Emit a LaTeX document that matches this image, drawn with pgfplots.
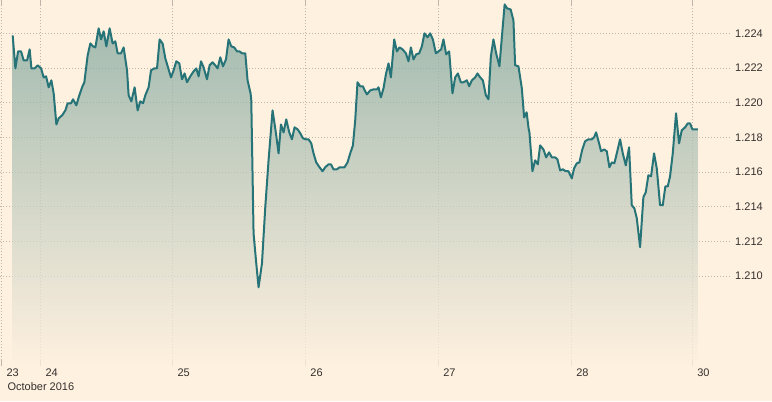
\documentclass[border=0pt]{standalone}
\usepackage{fontspec}
\setmainfont{Liberation Sans}
\usepackage{pgfplots}
\pgfplotsset{compat=1.18}
\usepackage{pgfplotstable}

\definecolor{ftbg}{HTML}{FFF1E0}
\definecolor{ftline}{HTML}{277478}
\definecolor{fttop}{RGB}{126,165,156}
\definecolor{ftgrid}{HTML}{BFB5AB}
\definecolor{fttext}{HTML}{33302E}

% x: position on the trading-time axis (day 24 at 40, 132 per day), y: EUR/USD rate
\pgfplotstableread{
x y
12.3 1.22388
15 1.22198
17.7 1.22296
20.7 1.22296
23.3 1.22244
26.7 1.22244
29.3 1.22308
31 1.22198
34.3 1.22198
37.3 1.22216
40.7 1.22198
43.3 1.22146
45.7 1.22152
48.3 1.22089
51 1.22129
53.3 1.22054
56 1.21875
58.3 1.21910
61.7 1.21927
65 1.21956
67.3 1.21997
70.7 1.21997
72.7 1.22020
76 1.21985
78.3 1.22031
81.7 1.22089
84 1.22118
87.3 1.22273
90 1.22342
92.7 1.22325
95 1.22319
98.3 1.22429
100.7 1.22365
103.3 1.22412
106 1.22325
109.3 1.22429
112.3 1.22342
115 1.22354
117.3 1.22285
120.7 1.22285
123.3 1.22319
126.7 1.22187
128.3 1.22043
131 1.22008
134.3 1.22089
137.3 1.21956
140 1.22008
142.7 1.21997
145 1.22043
148.3 1.22089
150.7 1.22187
154 1.22198
156.7 1.22198
159.3 1.22365
162.3 1.22342
165 1.22256
167.7 1.22204
170.7 1.22146
173.3 1.22187
176 1.22239
179 1.22227
181.7 1.22135
184.3 1.22169
186.7 1.22118
190 1.22152
193.3 1.22181
196 1.22198
198.3 1.22152
200.7 1.22239
203.3 1.22204
206.7 1.22135
209.3 1.22216
212.3 1.22233
215 1.22216
217.3 1.22198
220 1.22262
222.7 1.22210
225.7 1.22250
228.3 1.22365
231 1.22325
234 1.22319
236.7 1.22296
239.3 1.22296
241.7 1.22285
245 1.22285
247.3 1.22129
250.3 1.22054
251 1.22014
253.3 1.21247
255.7 1.21092
258.3 1.20936
261.7 1.21074
265 1.21397
268.3 1.21668
272.3 1.21956
275.7 1.21824
278.3 1.21708
280.7 1.21875
283.3 1.21829
286 1.21904
289 1.21829
291.7 1.21789
294.3 1.21858
297.3 1.21847
300 1.21824
302.7 1.21795
305.7 1.21789
308.3 1.21789
311 1.21766
313.3 1.21708
316 1.21656
319.3 1.21628
322.3 1.21605
325 1.21628
328.3 1.21645
330.7 1.21645
333.3 1.21616
336.7 1.21616
339.3 1.21628
344.3 1.21628
347.3 1.21656
350 1.21708
352.7 1.21754
355 1.21899
357.3 1.22118
360 1.22095
362.7 1.22095
364 1.22077
366.7 1.22048
370 1.22071
373.3 1.22077
376.7 1.22077
378.3 1.22089
380.7 1.22031
383.3 1.22083
385.7 1.22164
388.3 1.22227
390.7 1.22146
394 1.22365
396.7 1.22296
399.3 1.22319
402.3 1.22308
405.7 1.22285
408.3 1.22239
410.7 1.22319
413.3 1.22250
416 1.22279
419 1.22285
421.7 1.22325
424.3 1.22400
427.3 1.22377
430 1.22400
432.7 1.22365
435.7 1.22285
438.3 1.22296
441 1.22308
443.3 1.22365
446 1.22279
449 1.22296
452.3 1.22054
455 1.22146
457.7 1.22169
460.7 1.22118
463.3 1.22118
466.7 1.22129
469 1.22095
471.7 1.22129
475 1.22146
477.3 1.22169
480 1.22146
482.7 1.22129
485.7 1.22043
488.3 1.22020
490.7 1.22267
493.3 1.22365
496 1.22285
499.3 1.22210
501.7 1.22377
504.5 1.22567
507 1.22544
510.5 1.22538
513.3 1.22475
515 1.22216
518.3 1.22210
521.7 1.22083
524 1.21915
526.5 1.21945
528.5 1.21850
529.3 1.21829
532.3 1.21605
535 1.21668
537.7 1.21645
540 1.21754
543.3 1.21731
546 1.21685
549 1.21714
551.7 1.21685
555 1.21685
557.3 1.21674
560 1.21610
562.7 1.21616
565.7 1.21605
568.3 1.21605
571.7 1.21564
574 1.21622
576.7 1.21651
579.3 1.21656
582 1.21726
585 1.21778
588.3 1.21789
591.7 1.21789
594 1.21801
596 1.21829
599 1.21766
601 1.21720
604 1.21731
606.7 1.21720
609.3 1.21628
611.7 1.21656
614.3 1.21651
616.7 1.21708
620 1.21789
622.7 1.21708
625.7 1.21639
629 1.21743
631.7 1.21409
634.3 1.21391
636.7 1.21334
640 1.21167
643.3 1.21455
645.7 1.21484
648.3 1.21582
651 1.21576
654 1.21708
656.7 1.21622
660 1.21409
662.7 1.21409
665.3 1.21518
667.7 1.21518
670 1.21576
672.7 1.21708
676 1.21939
679 1.21766
681.7 1.21841
685 1.21858
687.7 1.21881
690 1.21881
692.3 1.21847
695 1.21847
697.7 1.21847
}\eurusd

\begin{document}
\begin{tikzpicture}
\fill[ftbg] (0,0) rectangle (772pt,401pt);
\begin{axis}[
  at={(0pt,35pt)}, anchor=south west,
  scale only axis,
  width=730pt, height=366pt,
  xmin=0, xmax=730,
  ymin=1.20481, ymax=1.22590,
  axis line style={draw=none},
  xtick={1,40,172,305,438,571,692},
  xticklabels={23,24,25,26,27,28,30},
  ytick={1.210,1.212,1.214,1.216,1.218,1.220,1.222,1.224},
  yticklabel pos=right,
  yticklabel style={anchor=west, inner sep=0pt, xshift=5pt,
    /pgf/number format/fixed, /pgf/number format/precision=3,
    /pgf/number format/fixed zerofill},
  xticklabel style={anchor=north west, inner sep=0pt, xshift=5pt, yshift=-2pt},
  ticklabel style={font=\fontsize{11}{13}\selectfont, text=fttext},
  /pgf/number format/assume math mode=true,
  grid=major,
  major grid style={ftgrid, line width=0.8pt, dash pattern=on 1pt off 2pt},
  tick align=inside,
  major tick length=6pt,
  x tick style={ftgrid, line width=0.8pt},
  y tick style={draw=none},
  clip=true,
]
\addplot[draw=none, top color=fttop, bottom color=ftbg, fill opacity=0.75, forget plot]
  table[x=x, y=y] {\eurusd} \closedcycle;
\addplot[ftline, line width=2pt, line join=round] table[x=x, y=y] {\eurusd};
\end{axis}
\node[anchor=north west, inner sep=0pt, text=fttext, font=\fontsize{11}{13}\selectfont]
  at (7pt,19pt) {October 2016};
\end{tikzpicture}
\end{document}
